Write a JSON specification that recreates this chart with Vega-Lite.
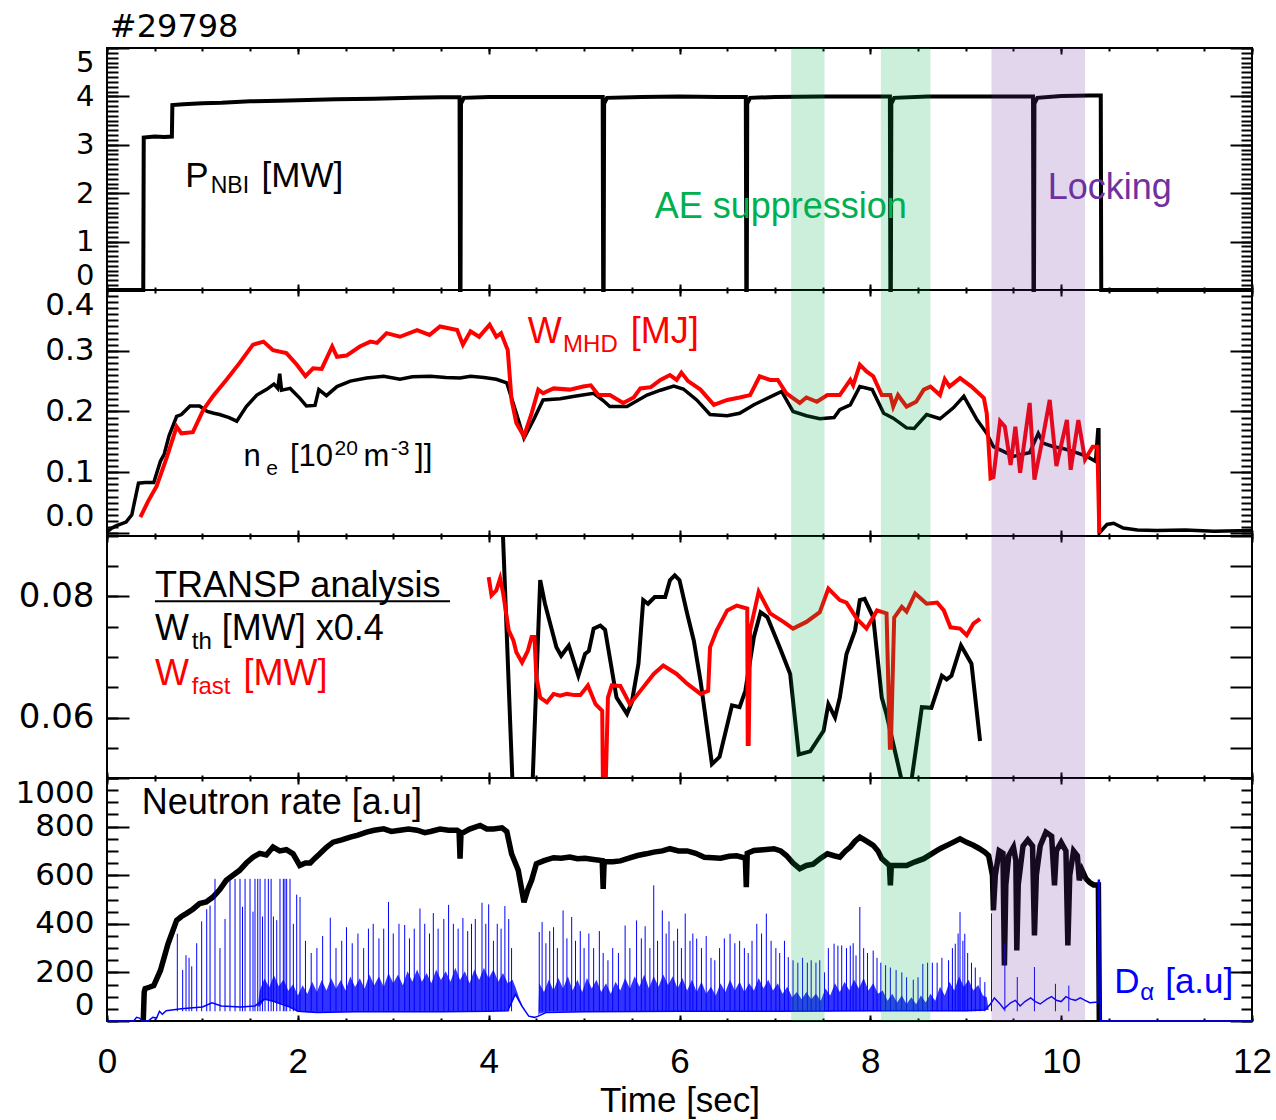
{
"$schema":"https://vega.github.io/schema/vega-lite/v6.json",
"background":"white",
"padding":{"left":14,"top":9,"right":4,"bottom":0},
"config":{"view":{"stroke":"black","strokeWidth":2},"axis":{"grid":false,"domain":false,"labels":false,"ticks":true,"tickColor":"black","tickWidth":2,"labelOverlap":false}},
"datasets":{
"green":[{"t1":7.17,"t2":7.52},{"t1":8.11,"t2":8.63}],
"purple":[{"t1":9.27,"t2":10.25}],
"pnbi":[{"t":0,"v":0},{"t":0.38,"v":0},{"t":0.385,"v":3.15},{"t":0.5,"v":3.17},{"t":0.6,"v":3.16},{"t":0.68,"v":3.17},{"t":0.685,"v":3.82},{"t":0.8,"v":3.84},{"t":1.0,"v":3.86},{"t":1.2,"v":3.87},{"t":1.5,"v":3.9},{"t":1.8,"v":3.91},{"t":2.0,"v":3.92},{"t":2.4,"v":3.94},{"t":2.8,"v":3.95},{"t":3.2,"v":3.97},{"t":3.5,"v":3.98},{"t":3.695,"v":3.98},{"t":3.7,"v":0},{"t":3.705,"v":0},{"t":3.71,"v":3.85},{"t":3.74,"v":3.97},{"t":4.0,"v":3.99},{"t":4.5,"v":3.99},{"t":5.0,"v":3.99},{"t":5.195,"v":3.99},{"t":5.2,"v":0},{"t":5.205,"v":0},{"t":5.21,"v":3.85},{"t":5.24,"v":3.97},{"t":5.6,"v":3.99},{"t":6.0,"v":4.0},{"t":6.4,"v":3.99},{"t":6.695,"v":3.99},{"t":6.7,"v":0},{"t":6.705,"v":0},{"t":6.71,"v":3.85},{"t":6.74,"v":3.97},{"t":7.0,"v":3.99},{"t":7.5,"v":4.0},{"t":8.0,"v":4.0},{"t":8.205,"v":4.0},{"t":8.21,"v":0},{"t":8.215,"v":0},{"t":8.22,"v":3.85},{"t":8.25,"v":3.97},{"t":8.6,"v":4.0},{"t":9.0,"v":4.0},{"t":9.4,"v":4.0},{"t":9.705,"v":4.0},{"t":9.71,"v":0},{"t":9.715,"v":0},{"t":9.72,"v":3.85},{"t":9.75,"v":3.97},{"t":10.0,"v":4.01},{"t":10.3,"v":4.02},{"t":10.415,"v":4.02},{"t":10.42,"v":0},{"t":12,"v":0}],
"ne":[{"t":0,"v":0.002},{"t":0.05,"v":0.008},{"t":0.1,"v":0.012},{"t":0.2,"v":0.018},{"t":0.26,"v":0.03},{"t":0.3,"v":0.06},{"t":0.33,"v":0.082},{"t":0.4,"v":0.083},{"t":0.49,"v":0.083},{"t":0.56,"v":0.118},{"t":0.6,"v":0.13},{"t":0.65,"v":0.16},{"t":0.73,"v":0.192},{"t":0.78,"v":0.195},{"t":0.87,"v":0.209},{"t":0.97,"v":0.209},{"t":1.05,"v":0.2},{"t":1.12,"v":0.197},{"t":1.18,"v":0.195},{"t":1.28,"v":0.19},{"t":1.36,"v":0.184},{"t":1.46,"v":0.208},{"t":1.57,"v":0.227},{"t":1.67,"v":0.236},{"t":1.75,"v":0.245},{"t":1.79,"v":0.238},{"t":1.81,"v":0.262},{"t":1.83,"v":0.235},{"t":1.92,"v":0.238},{"t":2.02,"v":0.222},{"t":2.09,"v":0.209},{"t":2.18,"v":0.21},{"t":2.22,"v":0.236},{"t":2.3,"v":0.226},{"t":2.41,"v":0.241},{"t":2.55,"v":0.25},{"t":2.72,"v":0.255},{"t":2.9,"v":0.258},{"t":3.07,"v":0.253},{"t":3.2,"v":0.257},{"t":3.39,"v":0.258},{"t":3.55,"v":0.256},{"t":3.7,"v":0.255},{"t":3.81,"v":0.258},{"t":3.95,"v":0.256},{"t":4.08,"v":0.253},{"t":4.19,"v":0.247},{"t":4.29,"v":0.197},{"t":4.37,"v":0.156},{"t":4.47,"v":0.186},{"t":4.57,"v":0.219},{"t":4.75,"v":0.221},{"t":4.9,"v":0.225},{"t":5.1,"v":0.23},{"t":5.2,"v":0.218},{"t":5.27,"v":0.208},{"t":5.45,"v":0.208},{"t":5.66,"v":0.227},{"t":5.8,"v":0.235},{"t":5.94,"v":0.242},{"t":6.04,"v":0.237},{"t":6.18,"v":0.219},{"t":6.32,"v":0.195},{"t":6.5,"v":0.193},{"t":6.63,"v":0.197},{"t":6.78,"v":0.211},{"t":6.99,"v":0.227},{"t":7.07,"v":0.233},{"t":7.19,"v":0.2},{"t":7.33,"v":0.193},{"t":7.47,"v":0.188},{"t":7.62,"v":0.19},{"t":7.68,"v":0.203},{"t":7.79,"v":0.211},{"t":7.89,"v":0.241},{"t":8.02,"v":0.236},{"t":8.14,"v":0.197},{"t":8.24,"v":0.189},{"t":8.38,"v":0.173},{"t":8.46,"v":0.172},{"t":8.59,"v":0.195},{"t":8.73,"v":0.188},{"t":8.87,"v":0.206},{"t":8.98,"v":0.225},{"t":9.12,"v":0.186},{"t":9.22,"v":0.164},{"t":9.29,"v":0.142},{"t":9.4,"v":0.134},{"t":9.5,"v":0.126},{"t":9.6,"v":0.13},{"t":9.67,"v":0.132},{"t":9.76,"v":0.164},{"t":9.81,"v":0.148},{"t":9.92,"v":0.142},{"t":10.02,"v":0.139},{"t":10.13,"v":0.134},{"t":10.27,"v":0.126},{"t":10.36,"v":0.118},{"t":10.385,"v":0.17},{"t":10.395,"v":0.17},{"t":10.4,"v":0.0},{"t":10.48,"v":0.014},{"t":10.55,"v":0.016},{"t":10.65,"v":0.008},{"t":10.8,"v":0.005},{"t":11.0,"v":0.004},{"t":11.3,"v":0.005},{"t":11.6,"v":0.003},{"t":12,"v":0.004}],
"wmhd":[{"t":0.35,"v":0.026},{"t":0.43,"v":0.052},{"t":0.52,"v":0.077},{"t":0.63,"v":0.126},{"t":0.73,"v":0.175},{"t":0.78,"v":0.164},{"t":0.9,"v":0.166},{"t":1.01,"v":0.203},{"t":1.11,"v":0.225},{"t":1.25,"v":0.252},{"t":1.39,"v":0.28},{"t":1.53,"v":0.31},{"t":1.64,"v":0.315},{"t":1.74,"v":0.301},{"t":1.88,"v":0.296},{"t":1.99,"v":0.277},{"t":2.08,"v":0.258},{"t":2.16,"v":0.271},{"t":2.25,"v":0.27},{"t":2.36,"v":0.307},{"t":2.41,"v":0.29},{"t":2.51,"v":0.292},{"t":2.65,"v":0.307},{"t":2.76,"v":0.315},{"t":2.83,"v":0.313},{"t":2.93,"v":0.329},{"t":3.07,"v":0.323},{"t":3.25,"v":0.334},{"t":3.38,"v":0.326},{"t":3.49,"v":0.34},{"t":3.67,"v":0.334},{"t":3.73,"v":0.31},{"t":3.81,"v":0.332},{"t":3.9,"v":0.323},{"t":4.01,"v":0.343},{"t":4.08,"v":0.323},{"t":4.13,"v":0.329},{"t":4.2,"v":0.301},{"t":4.24,"v":0.219},{"t":4.29,"v":0.181},{"t":4.37,"v":0.159},{"t":4.45,"v":0.197},{"t":4.52,"v":0.236},{"t":4.57,"v":0.23},{"t":4.68,"v":0.238},{"t":4.85,"v":0.236},{"t":4.99,"v":0.241},{"t":5.07,"v":0.243},{"t":5.15,"v":0.227},{"t":5.27,"v":0.227},{"t":5.41,"v":0.214},{"t":5.52,"v":0.223},{"t":5.59,"v":0.238},{"t":5.7,"v":0.24},{"t":5.8,"v":0.252},{"t":5.9,"v":0.26},{"t":5.97,"v":0.252},{"t":6.02,"v":0.264},{"t":6.09,"v":0.25},{"t":6.22,"v":0.236},{"t":6.36,"v":0.211},{"t":6.5,"v":0.219},{"t":6.63,"v":0.223},{"t":6.74,"v":0.227},{"t":6.84,"v":0.258},{"t":6.95,"v":0.252},{"t":7.03,"v":0.252},{"t":7.12,"v":0.23},{"t":7.26,"v":0.214},{"t":7.33,"v":0.223},{"t":7.44,"v":0.216},{"t":7.55,"v":0.227},{"t":7.68,"v":0.227},{"t":7.79,"v":0.252},{"t":7.82,"v":0.243},{"t":7.89,"v":0.277},{"t":7.96,"v":0.266},{"t":8.03,"v":0.258},{"t":8.12,"v":0.227},{"t":8.21,"v":0.227},{"t":8.24,"v":0.208},{"t":8.29,"v":0.227},{"t":8.38,"v":0.208},{"t":8.48,"v":0.216},{"t":8.56,"v":0.236},{"t":8.63,"v":0.241},{"t":8.73,"v":0.227},{"t":8.78,"v":0.253},{"t":8.83,"v":0.241},{"t":8.94,"v":0.255},{"t":9.06,"v":0.241},{"t":9.19,"v":0.222},{"t":9.22,"v":0.197},{"t":9.26,"v":0.09},{"t":9.29,"v":0.092},{"t":9.36,"v":0.184},{"t":9.41,"v":0.175},{"t":9.47,"v":0.112},{"t":9.52,"v":0.175},{"t":9.57,"v":0.099},{"t":9.67,"v":0.214},{"t":9.72,"v":0.088},{"t":9.81,"v":0.159},{"t":9.88,"v":0.219},{"t":9.95,"v":0.11},{"t":10.06,"v":0.186},{"t":10.1,"v":0.104},{"t":10.18,"v":0.186},{"t":10.25,"v":0.121},{"t":10.33,"v":0.142},{"t":10.38,"v":0.142},{"t":10.4,"v":0.0}],
"wth":[{"t":4.13,"v":0.1},{"t":4.15,"v":0.09},{"t":4.26,"v":0.045},{"t":4.45,"v":0.045},{"t":4.54,"v":0.0827},{"t":4.59,"v":0.0788},{"t":4.71,"v":0.0716},{"t":4.76,"v":0.0702},{"t":4.84,"v":0.0719},{"t":4.94,"v":0.0669},{"t":5.01,"v":0.0705},{"t":5.05,"v":0.071},{"t":5.1,"v":0.0747},{"t":5.17,"v":0.0752},{"t":5.22,"v":0.0745},{"t":5.34,"v":0.0633},{"t":5.45,"v":0.0606},{"t":5.5,"v":0.0625},{"t":5.57,"v":0.0689},{"t":5.62,"v":0.0794},{"t":5.67,"v":0.0788},{"t":5.74,"v":0.0799},{"t":5.85,"v":0.0799},{"t":5.9,"v":0.0827},{"t":5.95,"v":0.0835},{"t":6.0,"v":0.0827},{"t":6.08,"v":0.0772},{"t":6.15,"v":0.0727},{"t":6.22,"v":0.0661},{"t":6.34,"v":0.0523},{"t":6.42,"v":0.0535},{"t":6.55,"v":0.062},{"t":6.63,"v":0.0617},{"t":6.69,"v":0.0644},{"t":6.78,"v":0.0733},{"t":6.85,"v":0.0774},{"t":6.92,"v":0.0766},{"t":7.05,"v":0.0716},{"t":7.16,"v":0.0672},{"t":7.25,"v":0.0539},{"t":7.37,"v":0.0544},{"t":7.51,"v":0.0578},{"t":7.56,"v":0.0622},{"t":7.63,"v":0.06},{"t":7.68,"v":0.0633},{"t":7.75,"v":0.0705},{"t":7.84,"v":0.0744},{"t":7.89,"v":0.0794},{"t":7.94,"v":0.0796},{"t":8.03,"v":0.0766},{"t":8.12,"v":0.0633},{"t":8.17,"v":0.0605},{"t":8.33,"v":0.0495},{"t":8.43,"v":0.0495},{"t":8.54,"v":0.0617},{"t":8.64,"v":0.0616},{"t":8.75,"v":0.0669},{"t":8.8,"v":0.0663},{"t":8.85,"v":0.0669},{"t":8.95,"v":0.0719},{"t":9.06,"v":0.0689},{"t":9.15,"v":0.0561}],
"wfast":[{"t":4.0,"v":0.0832},{"t":4.03,"v":0.0802},{"t":4.08,"v":0.081},{"t":4.12,"v":0.083},{"t":4.15,"v":0.0807},{"t":4.21,"v":0.0744},{"t":4.26,"v":0.0727},{"t":4.29,"v":0.0708},{"t":4.35,"v":0.0691},{"t":4.41,"v":0.071},{"t":4.45,"v":0.0733},{"t":4.48,"v":0.0733},{"t":4.5,"v":0.0667},{"t":4.54,"v":0.0633},{"t":4.61,"v":0.0625},{"t":4.68,"v":0.0639},{"t":4.75,"v":0.0636},{"t":4.82,"v":0.0639},{"t":4.9,"v":0.0637},{"t":4.96,"v":0.0637},{"t":5.04,"v":0.0653},{"t":5.12,"v":0.0622},{"t":5.19,"v":0.0611},{"t":5.2,"v":0.045},{"t":5.22,"v":0.045},{"t":5.25,"v":0.0633},{"t":5.29,"v":0.0653},{"t":5.38,"v":0.0652},{"t":5.48,"v":0.0622},{"t":5.59,"v":0.0644},{"t":5.73,"v":0.0672},{"t":5.83,"v":0.0686},{"t":5.97,"v":0.0672},{"t":6.08,"v":0.0656},{"t":6.22,"v":0.0639},{"t":6.3,"v":0.0644},{"t":6.32,"v":0.0716},{"t":6.39,"v":0.0744},{"t":6.5,"v":0.0777},{"t":6.6,"v":0.0785},{"t":6.71,"v":0.078},{"t":6.715,"v":0.0556},{"t":6.725,"v":0.0556},{"t":6.74,"v":0.0744},{"t":6.83,"v":0.0808},{"t":6.95,"v":0.0772},{"t":7.09,"v":0.0758},{"t":7.19,"v":0.0747},{"t":7.33,"v":0.0758},{"t":7.47,"v":0.0774},{"t":7.56,"v":0.0813},{"t":7.68,"v":0.0794},{"t":7.75,"v":0.079},{"t":7.86,"v":0.0763},{"t":7.96,"v":0.0747},{"t":8.07,"v":0.0777},{"t":8.17,"v":0.0772},{"t":8.205,"v":0.055},{"t":8.215,"v":0.055},{"t":8.25,"v":0.0765},{"t":8.33,"v":0.0783},{"t":8.38,"v":0.0775},{"t":8.47,"v":0.0805},{"t":8.59,"v":0.0788},{"t":8.7,"v":0.079},{"t":8.77,"v":0.0777},{"t":8.84,"v":0.0749},{"t":8.94,"v":0.0747},{"t":9.01,"v":0.0736},{"t":9.08,"v":0.0755},{"t":9.15,"v":0.0763}],
"neut":[{"t":0.38,"v":0},{"t":0.39,"v":120},{"t":0.4,"v":133},{"t":0.45,"v":140},{"t":0.49,"v":146},{"t":0.56,"v":208},{"t":0.64,"v":318},{"t":0.73,"v":414},{"t":0.78,"v":430},{"t":0.83,"v":442},{"t":0.9,"v":460},{"t":0.97,"v":483},{"t":1.04,"v":490},{"t":1.11,"v":510},{"t":1.18,"v":540},{"t":1.25,"v":579},{"t":1.32,"v":600},{"t":1.39,"v":620},{"t":1.46,"v":650},{"t":1.53,"v":674},{"t":1.6,"v":690},{"t":1.67,"v":683},{"t":1.74,"v":716},{"t":1.81,"v":700},{"t":1.88,"v":705},{"t":1.95,"v":688},{"t":2.02,"v":640},{"t":2.08,"v":650},{"t":2.13,"v":650},{"t":2.18,"v":670},{"t":2.23,"v":688},{"t":2.3,"v":715},{"t":2.37,"v":736},{"t":2.46,"v":745},{"t":2.55,"v":757},{"t":2.63,"v":765},{"t":2.72,"v":777},{"t":2.8,"v":785},{"t":2.9,"v":791},{"t":2.98,"v":780},{"t":3.07,"v":785},{"t":3.16,"v":790},{"t":3.25,"v":785},{"t":3.33,"v":775},{"t":3.39,"v":780},{"t":3.49,"v":790},{"t":3.58,"v":785},{"t":3.67,"v":785},{"t":3.69,"v":780},{"t":3.7,"v":668},{"t":3.71,"v":770},{"t":3.8,"v":790},{"t":3.91,"v":805},{"t":3.98,"v":790},{"t":4.05,"v":790},{"t":4.14,"v":795},{"t":4.19,"v":780},{"t":4.24,"v":688},{"t":4.31,"v":620},{"t":4.37,"v":489},{"t":4.41,"v":540},{"t":4.45,"v":579},{"t":4.5,"v":647},{"t":4.58,"v":660},{"t":4.68,"v":672},{"t":4.76,"v":670},{"t":4.85,"v":675},{"t":4.93,"v":668},{"t":5.01,"v":670},{"t":5.1,"v":665},{"t":5.19,"v":660},{"t":5.2,"v":544},{"t":5.21,"v":655},{"t":5.3,"v":655},{"t":5.38,"v":659},{"t":5.47,"v":670},{"t":5.56,"v":681},{"t":5.65,"v":688},{"t":5.73,"v":695},{"t":5.82,"v":700},{"t":5.9,"v":709},{"t":5.99,"v":700},{"t":6.08,"v":700},{"t":6.17,"v":690},{"t":6.26,"v":674},{"t":6.35,"v":672},{"t":6.43,"v":670},{"t":6.52,"v":678},{"t":6.6,"v":680},{"t":6.69,"v":670},{"t":6.7,"v":551},{"t":6.71,"v":690},{"t":6.78,"v":702},{"t":6.88,"v":705},{"t":6.99,"v":709},{"t":7.06,"v":700},{"t":7.12,"v":681},{"t":7.19,"v":650},{"t":7.26,"v":627},{"t":7.33,"v":640},{"t":7.4,"v":645},{"t":7.48,"v":670},{"t":7.55,"v":688},{"t":7.62,"v":680},{"t":7.68,"v":674},{"t":7.74,"v":700},{"t":7.79,"v":716},{"t":7.84,"v":740},{"t":7.89,"v":757},{"t":7.96,"v":740},{"t":8.03,"v":723},{"t":8.08,"v":700},{"t":8.12,"v":668},{"t":8.2,"v":640},{"t":8.21,"v":558},{"t":8.22,"v":640},{"t":8.3,"v":640},{"t":8.38,"v":640},{"t":8.47,"v":655},{"t":8.56,"v":668},{"t":8.65,"v":690},{"t":8.73,"v":709},{"t":8.84,"v":730},{"t":8.94,"v":750},{"t":9.01,"v":735},{"t":9.08,"v":723},{"t":9.14,"v":710},{"t":9.2,"v":695},{"t":9.24,"v":680},{"t":9.28,"v":600},{"t":9.29,"v":455},{"t":9.31,"v":600},{"t":9.35,"v":700},{"t":9.39,"v":690},{"t":9.405,"v":229},{"t":9.42,"v":560},{"t":9.45,"v":680},{"t":9.5,"v":715},{"t":9.525,"v":660},{"t":9.535,"v":290},{"t":9.55,"v":560},{"t":9.6,"v":720},{"t":9.65,"v":745},{"t":9.7,"v":720},{"t":9.72,"v":352},{"t":9.74,"v":600},{"t":9.78,"v":720},{"t":9.84,"v":777},{"t":9.9,"v":760},{"t":9.93,"v":558},{"t":9.95,"v":700},{"t":10.0,"v":735},{"t":10.05,"v":700},{"t":10.07,"v":311},{"t":10.09,"v":600},{"t":10.13,"v":700},{"t":10.17,"v":680},{"t":10.19,"v":579},{"t":10.22,"v":620},{"t":10.26,"v":586},{"t":10.3,"v":570},{"t":10.34,"v":560},{"t":10.39,"v":560},{"t":10.4,"v":0}],
"dabase":[{"t":0,"v":0},{"t":0.28,"v":0},{"t":0.31,"v":15},{"t":0.34,"v":12},{"t":0.37,"v":0},{"t":0.43,"v":0},{"t":0.48,"v":15},{"t":0.52,"v":12},{"t":0.55,"v":40},{"t":0.58,"v":28},{"t":0.62,"v":42},{"t":0.7,"v":46},{"t":0.78,"v":50},{"t":0.9,"v":55},{"t":1.0,"v":58},{"t":1.1,"v":75},{"t":1.2,"v":62},{"t":1.4,"v":58},{"t":1.55,"v":62},{"t":1.65,"v":90},{"t":1.75,"v":80},{"t":1.9,"v":60},{"t":2.0,"v":40},{"t":2.2,"v":35},{"t":2.6,"v":38},{"t":3.0,"v":38},{"t":3.5,"v":38},{"t":4.0,"v":40},{"t":4.2,"v":42},{"t":4.28,"v":110},{"t":4.35,"v":60},{"t":4.42,"v":20},{"t":4.48,"v":15},{"t":4.52,"v":20},{"t":4.6,"v":35},{"t":5.0,"v":38},{"t":6.0,"v":40},{"t":7.0,"v":40},{"t":8.0,"v":42},{"t":9.0,"v":42},{"t":9.2,"v":45},{"t":9.26,"v":70},{"t":9.3,"v":95},{"t":9.36,"v":70},{"t":9.4,"v":50},{"t":9.47,"v":75},{"t":9.52,"v":85},{"t":9.57,"v":62},{"t":9.62,"v":80},{"t":9.68,"v":95},{"t":9.73,"v":80},{"t":9.78,"v":70},{"t":9.85,"v":90},{"t":9.9,"v":100},{"t":9.95,"v":85},{"t":10.0,"v":80},{"t":10.05,"v":100},{"t":10.1,"v":90},{"t":10.15,"v":85},{"t":10.2,"v":95},{"t":10.25,"v":85},{"t":10.3,"v":75},{"t":10.385,"v":78},{"t":10.39,"v":579},{"t":10.4,"v":579},{"t":10.41,"v":0},{"t":12,"v":0}],
"daenv":[{"t":1.58,"lo":60,"hi":60},{"t":1.6,"lo":60,"hi":125},{"t":1.65,"lo":85,"hi":175},{"t":1.7,"lo":85,"hi":139},{"t":1.75,"lo":80,"hi":188},{"t":1.8,"lo":75,"hi":143},{"t":1.85,"lo":70,"hi":171},{"t":1.9,"lo":60,"hi":125},{"t":1.95,"lo":50,"hi":151},{"t":2.0,"lo":40,"hi":105},{"t":2.05,"lo":38,"hi":147},{"t":2.1,"lo":36,"hi":111},{"t":2.15,"lo":36,"hi":162},{"t":2.2,"lo":35,"hi":119},{"t":2.25,"lo":36,"hi":169},{"t":2.3,"lo":36,"hi":126},{"t":2.35,"lo":37,"hi":176},{"t":2.4,"lo":37,"hi":133},{"t":2.45,"lo":37,"hi":169},{"t":2.5,"lo":38,"hi":126},{"t":2.55,"lo":38,"hi":183},{"t":2.6,"lo":38,"hi":140},{"t":2.65,"lo":38,"hi":176},{"t":2.7,"lo":38,"hi":133},{"t":2.75,"lo":38,"hi":191},{"t":2.8,"lo":38,"hi":147},{"t":2.85,"lo":38,"hi":183},{"t":2.9,"lo":38,"hi":140},{"t":2.95,"lo":38,"hi":198},{"t":3.0,"lo":38,"hi":155},{"t":3.05,"lo":38,"hi":191},{"t":3.1,"lo":38,"hi":147},{"t":3.15,"lo":38,"hi":205},{"t":3.2,"lo":38,"hi":162},{"t":3.25,"lo":38,"hi":212},{"t":3.3,"lo":38,"hi":162},{"t":3.35,"lo":38,"hi":198},{"t":3.4,"lo":38,"hi":155},{"t":3.45,"lo":38,"hi":212},{"t":3.5,"lo":38,"hi":169},{"t":3.55,"lo":39,"hi":205},{"t":3.6,"lo":39,"hi":162},{"t":3.65,"lo":39,"hi":219},{"t":3.7,"lo":39,"hi":169},{"t":3.75,"lo":39,"hi":205},{"t":3.8,"lo":40,"hi":155},{"t":3.85,"lo":40,"hi":212},{"t":3.9,"lo":40,"hi":169},{"t":3.95,"lo":40,"hi":219},{"t":4.0,"lo":40,"hi":176},{"t":4.05,"lo":41,"hi":212},{"t":4.1,"lo":41,"hi":162},{"t":4.15,"lo":41,"hi":198},{"t":4.2,"lo":42,"hi":155},{"t":4.25,"lo":80,"hi":170},{"t":4.28,"lo":110,"hi":140},{"t":4.32,"lo":80,"hi":95},{"t":4.36,"lo":55,"hi":58},{"t":4.38,"lo":50,"hi":50},{"t":4.52,"lo":20,"hi":20},{"t":4.53,"lo":30,"hi":155},{"t":4.58,"lo":35,"hi":119},{"t":4.63,"lo":38,"hi":170},{"t":4.68,"lo":38,"hi":126},{"t":4.73,"lo":38,"hi":177},{"t":4.78,"lo":38,"hi":134},{"t":4.83,"lo":38,"hi":184},{"t":4.88,"lo":38,"hi":126},{"t":4.93,"lo":38,"hi":170},{"t":4.98,"lo":38,"hi":119},{"t":5.03,"lo":38,"hi":177},{"t":5.08,"lo":38,"hi":134},{"t":5.13,"lo":38,"hi":170},{"t":5.18,"lo":38,"hi":119},{"t":5.23,"lo":38,"hi":155},{"t":5.28,"lo":38,"hi":112},{"t":5.33,"lo":38,"hi":162},{"t":5.38,"lo":38,"hi":126},{"t":5.43,"lo":39,"hi":177},{"t":5.48,"lo":39,"hi":134},{"t":5.53,"lo":39,"hi":184},{"t":5.58,"lo":39,"hi":141},{"t":5.63,"lo":39,"hi":191},{"t":5.68,"lo":39,"hi":134},{"t":5.73,"lo":39,"hi":184},{"t":5.78,"lo":39,"hi":141},{"t":5.83,"lo":40,"hi":191},{"t":5.88,"lo":40,"hi":148},{"t":5.93,"lo":40,"hi":184},{"t":5.98,"lo":40,"hi":134},{"t":6.03,"lo":40,"hi":177},{"t":6.08,"lo":40,"hi":126},{"t":6.13,"lo":40,"hi":170},{"t":6.18,"lo":40,"hi":119},{"t":6.23,"lo":40,"hi":162},{"t":6.28,"lo":40,"hi":112},{"t":6.33,"lo":40,"hi":141},{"t":6.38,"lo":40,"hi":105},{"t":6.43,"lo":40,"hi":155},{"t":6.48,"lo":40,"hi":119},{"t":6.53,"lo":40,"hi":170},{"t":6.58,"lo":40,"hi":126},{"t":6.63,"lo":40,"hi":162},{"t":6.68,"lo":40,"hi":119},{"t":6.73,"lo":40,"hi":155},{"t":6.78,"lo":40,"hi":126},{"t":6.83,"lo":40,"hi":177},{"t":6.88,"lo":40,"hi":134},{"t":6.93,"lo":40,"hi":170},{"t":6.98,"lo":40,"hi":126},{"t":7.03,"lo":40,"hi":155},{"t":7.08,"lo":40,"hi":112},{"t":7.13,"lo":40,"hi":141},{"t":7.18,"lo":40,"hi":98},{"t":7.23,"lo":40,"hi":119},{"t":7.28,"lo":40,"hi":90},{"t":7.33,"lo":40,"hi":119},{"t":7.38,"lo":40,"hi":90},{"t":7.43,"lo":40,"hi":112},{"t":7.48,"lo":40,"hi":83},{"t":7.53,"lo":40,"hi":134},{"t":7.58,"lo":40,"hi":105},{"t":7.63,"lo":41,"hi":155},{"t":7.68,"lo":41,"hi":119},{"t":7.73,"lo":41,"hi":162},{"t":7.78,"lo":41,"hi":126},{"t":7.83,"lo":41,"hi":170},{"t":7.88,"lo":41,"hi":134},{"t":7.93,"lo":41,"hi":177},{"t":7.98,"lo":42,"hi":126},{"t":8.03,"lo":42,"hi":155},{"t":8.08,"lo":42,"hi":112},{"t":8.13,"lo":42,"hi":126},{"t":8.18,"lo":42,"hi":83},{"t":8.23,"lo":42,"hi":112},{"t":8.28,"lo":42,"hi":76},{"t":8.33,"lo":42,"hi":105},{"t":8.38,"lo":42,"hi":69},{"t":8.43,"lo":42,"hi":98},{"t":8.48,"lo":42,"hi":69},{"t":8.53,"lo":42,"hi":105},{"t":8.58,"lo":42,"hi":76},{"t":8.63,"lo":42,"hi":112},{"t":8.68,"lo":42,"hi":83},{"t":8.73,"lo":42,"hi":141},{"t":8.78,"lo":42,"hi":105},{"t":8.83,"lo":42,"hi":162},{"t":8.88,"lo":42,"hi":126},{"t":8.93,"lo":42,"hi":184},{"t":8.98,"lo":42,"hi":141},{"t":9.03,"lo":43,"hi":170},{"t":9.08,"lo":43,"hi":126},{"t":9.13,"lo":44,"hi":148},{"t":9.18,"lo":44,"hi":105},{"t":9.22,"lo":45,"hi":98},{"t":9.24,"lo":45,"hi":45}],
"daspk":[{"t":0.737,"v":359},{"t":0.793,"v":210},{"t":0.828,"v":271},{"t":0.86,"v":260},{"t":0.888,"v":225},{"t":0.94,"v":320},{"t":0.992,"v":410},{"t":1.045,"v":460},{"t":1.08,"v":475},{"t":1.132,"v":585},{"t":1.184,"v":300},{"t":1.237,"v":420},{"t":1.289,"v":585},{"t":1.342,"v":585},{"t":1.394,"v":585},{"t":1.42,"v":470},{"t":1.447,"v":585},{"t":1.499,"v":585},{"t":1.53,"v":450},{"t":1.551,"v":585},{"t":1.58,"v":585},{"t":1.604,"v":585},{"t":1.63,"v":430},{"t":1.656,"v":585},{"t":1.691,"v":585},{"t":1.72,"v":585},{"t":1.744,"v":430},{"t":1.779,"v":415},{"t":1.813,"v":585},{"t":1.848,"v":585},{"t":1.865,"v":585},{"t":1.883,"v":585},{"t":1.918,"v":585},{"t":1.953,"v":400},{"t":1.988,"v":520},{"t":2.023,"v":510},{"t":2.08,"v":330},{"t":2.14,"v":280},{"t":2.2,"v":300},{"t":2.26,"v":350},{"t":2.34,"v":425},{"t":2.4,"v":300},{"t":2.46,"v":330},{"t":2.51,"v":386},{"t":2.57,"v":320},{"t":2.63,"v":360},{"t":2.69,"v":300},{"t":2.74,"v":380},{"t":2.79,"v":400},{"t":2.85,"v":340},{"t":2.9,"v":380},{"t":2.95,"v":490},{"t":3.0,"v":360},{"t":3.06,"v":400},{"t":3.12,"v":395},{"t":3.17,"v":340},{"t":3.22,"v":380},{"t":3.28,"v":463},{"t":3.33,"v":400},{"t":3.38,"v":360},{"t":3.42,"v":444},{"t":3.47,"v":380},{"t":3.53,"v":420},{"t":3.58,"v":478},{"t":3.63,"v":400},{"t":3.68,"v":380},{"t":3.73,"v":424},{"t":3.78,"v":370},{"t":3.82,"v":400},{"t":3.86,"v":420},{"t":3.93,"v":487},{"t":3.97,"v":400},{"t":4.0,"v":480},{"t":4.05,"v":330},{"t":4.09,"v":400},{"t":4.13,"v":380},{"t":4.17,"v":473},{"t":4.21,"v":420},{"t":4.24,"v":300},{"t":4.53,"v":366},{"t":4.56,"v":407},{"t":4.6,"v":320},{"t":4.64,"v":370},{"t":4.68,"v":386},{"t":4.72,"v":300},{"t":4.78,"v":455},{"t":4.82,"v":340},{"t":4.87,"v":428},{"t":4.91,"v":330},{"t":4.96,"v":370},{"t":5.0,"v":300},{"t":5.05,"v":360},{"t":5.1,"v":300},{"t":5.16,"v":370},{"t":5.2,"v":280},{"t":5.25,"v":250},{"t":5.3,"v":300},{"t":5.36,"v":280},{"t":5.43,"v":393},{"t":5.48,"v":300},{"t":5.55,"v":414},{"t":5.6,"v":340},{"t":5.64,"v":390},{"t":5.69,"v":300},{"t":5.73,"v":558},{"t":5.77,"v":330},{"t":5.82,"v":455},{"t":5.86,"v":360},{"t":5.89,"v":410},{"t":5.94,"v":330},{"t":5.98,"v":380},{"t":6.02,"v":300},{"t":6.06,"v":442},{"t":6.11,"v":330},{"t":6.14,"v":360},{"t":6.18,"v":339},{"t":6.23,"v":300},{"t":6.28,"v":350},{"t":6.33,"v":260},{"t":6.37,"v":250},{"t":6.42,"v":300},{"t":6.47,"v":340},{"t":6.53,"v":359},{"t":6.58,"v":320},{"t":6.63,"v":330},{"t":6.68,"v":300},{"t":6.72,"v":280},{"t":6.76,"v":330},{"t":6.81,"v":400},{"t":6.86,"v":360},{"t":6.91,"v":442},{"t":6.96,"v":330},{"t":7.01,"v":300},{"t":7.05,"v":280},{"t":7.1,"v":330},{"t":7.14,"v":263},{"t":7.19,"v":250},{"t":7.24,"v":240},{"t":7.29,"v":260},{"t":7.34,"v":240},{"t":7.38,"v":250},{"t":7.43,"v":240},{"t":7.47,"v":250},{"t":7.52,"v":200},{"t":7.56,"v":300},{"t":7.62,"v":318},{"t":7.66,"v":310},{"t":7.7,"v":311},{"t":7.75,"v":300},{"t":7.79,"v":310},{"t":7.82,"v":320},{"t":7.85,"v":270},{"t":7.89,"v":469},{"t":7.93,"v":300},{"t":7.97,"v":280},{"t":8.03,"v":290},{"t":8.07,"v":260},{"t":8.11,"v":240},{"t":8.16,"v":230},{"t":8.21,"v":220},{"t":8.27,"v":210},{"t":8.33,"v":200},{"t":8.38,"v":180},{"t":8.45,"v":170},{"t":8.5,"v":180},{"t":8.55,"v":235},{"t":8.6,"v":240},{"t":8.65,"v":240},{"t":8.7,"v":240},{"t":8.75,"v":260},{"t":8.82,"v":250},{"t":8.86,"v":300},{"t":8.89,"v":318},{"t":8.92,"v":360},{"t":8.94,"v":448},{"t":8.97,"v":330},{"t":8.99,"v":359},{"t":9.02,"v":280},{"t":9.06,"v":240},{"t":9.1,"v":220},{"t":9.15,"v":180},{"t":9.2,"v":160},{"t":9.27,"v":443},{"t":9.41,"v":318},{"t":9.54,"v":181},{"t":9.72,"v":222},{"t":9.94,"v":153},{"t":10.08,"v":146}]
},
"vconcat":[
{"width":1145,"height":242,
 "resolve":{"axis":{"x":"independent","y":"independent"}},
 "layer":[
  {"data":{"name":"pnbi"},"mark":{"type":"line","color":"black","strokeWidth":4},
   "encoding":{"x":{"field":"t","type":"quantitative","scale":{"domain":[0,12],"nice":false,"zero":false},"axis":{"orient":"top","values":[0,2,4,6,8,10,12],"tickSize":-6,"title":null}},
   "y":{"field":"v","type":"quantitative","scale":{"domain":[0,5],"nice":false,"zero":false},"axis":{"orient":"left","values":[0,1,2,3,4,5],"format":"d","tickSize":-22,"labels":true,"labelPadding":35,"labelFont":"DejaVu Sans","labelFontSize":29,"labelColor":"black","labelFlush":true,"title":null}}}},
  {"data":{"values":[{"t":0.82,"v":2.13,"s":"P"},{"t":1.62,"v":2.13,"s":"[MW]"}]},"mark":{"type":"text","font":"Liberation Sans","fontSize":35,"align":"left","baseline":"alphabetic","color":"black"},
   "encoding":{"x":{"field":"t","type":"quantitative","scale":{"domain":[0,12],"nice":false,"zero":false},"axis":{"orient":"top","tickCount":24,"tickSize":-3,"title":null}},
   "y":{"field":"v","type":"quantitative","scale":{"domain":[0,5],"nice":false,"zero":false},"axis":{"orient":"left","tickCount":50,"tickSize":-11,"title":null}},"text":{"field":"s"}}},
  {"data":{"values":[{"t":1.087,"v":2.0,"s":"NBI"}]},"mark":{"type":"text","font":"Liberation Sans","fontSize":23,"align":"left","baseline":"alphabetic","color":"black"},
   "encoding":{"x":{"field":"t","type":"quantitative","scale":{"domain":[0,12],"nice":false,"zero":false},"axis":{"orient":"bottom","values":[0,2,4,6,8,10,12],"tickSize":-6,"title":null}},
   "y":{"field":"v","type":"quantitative","scale":{"domain":[0,5],"nice":false,"zero":false},"axis":{"orient":"right","values":[0,1,2,3,4,5],"tickSize":-22,"title":null}},"text":{"field":"s"}}},
  {"data":{"values":[{"t":5.74,"v":1.49,"s":"AE suppression"}]},"mark":{"type":"text","font":"Liberation Sans","fontSize":36,"align":"left","baseline":"alphabetic","color":"#00B050"},
   "encoding":{"x":{"field":"t","type":"quantitative","scale":{"domain":[0,12],"nice":false,"zero":false},"axis":{"orient":"bottom","tickCount":24,"tickSize":-3,"title":null}},
   "y":{"field":"v","type":"quantitative","scale":{"domain":[0,5],"nice":false,"zero":false},"axis":{"orient":"right","tickCount":50,"tickSize":-11,"title":null}},"text":{"field":"s"}}},
  {"data":{"values":[{"t":9.86,"v":1.89,"s":"Locking"}]},"mark":{"type":"text","font":"Liberation Sans","fontSize":36,"align":"left","baseline":"alphabetic","color":"#7030A0"},
   "encoding":{"x":{"field":"t","type":"quantitative","scale":{"domain":[0,12],"nice":false,"zero":false},"axis":null},
   "y":{"field":"v","type":"quantitative","scale":{"domain":[0,5],"nice":false,"zero":false},"axis":null},"text":{"field":"s"}}},
  {"data":{"values":[{"t":0.03,"v":5.23,"s":"#29798"}]},"mark":{"type":"text","font":"DejaVu Sans","fontSize":32,"align":"left","baseline":"alphabetic","color":"black"},
   "encoding":{"x":{"field":"t","type":"quantitative","scale":{"domain":[0,12],"nice":false,"zero":false},"axis":null},
   "y":{"field":"v","type":"quantitative","scale":{"domain":[0,5],"nice":false,"zero":false},"axis":null},"text":{"field":"s"}}},
  {"data":{"name":"green"},"mark":{"type":"rect","color":"#00B050","opacity":0.2},"encoding":{"x":{"field":"t1","type":"quantitative","scale":{"domain":[0,12],"nice":false,"zero":false},"axis":null},"x2":{"field":"t2"}}},
  {"data":{"name":"purple"},"mark":{"type":"rect","color":"#7030A0","opacity":0.2},"encoding":{"x":{"field":"t1","type":"quantitative","scale":{"domain":[0,12],"nice":false,"zero":false},"axis":null},"x2":{"field":"t2"}}}
 ]},
{"width":1145,"height":246,
 "resolve":{"axis":{"x":"independent","y":"independent"}},
 "layer":[
  {"data":{"name":"ne"},"mark":{"type":"line","color":"black","strokeWidth":3.5},
   "encoding":{"x":{"field":"t","type":"quantitative","scale":{"domain":[0,12],"nice":false,"zero":false},"axis":{"orient":"top","values":[0,2,4,6,8,10,12],"tickSize":-6,"title":null}},
   "y":{"field":"v","type":"quantitative","scale":{"domain":[-0.005,0.4],"nice":false,"zero":false},"axis":{"orient":"left","values":[0,0.1,0.2,0.3,0.4],"format":".1f","tickSize":-22,"labels":true,"labelPadding":35,"labelFont":"DejaVu Sans","labelFontSize":31,"labelColor":"black","labelFlush":5,"title":null}}}},
  {"data":{"name":"wmhd"},"mark":{"type":"line","color":"#FF0000","strokeWidth":4},
   "encoding":{"x":{"field":"t","type":"quantitative","scale":{"domain":[0,12],"nice":false,"zero":false},"axis":{"orient":"top","tickCount":24,"tickSize":-3,"title":null}},
   "y":{"field":"v","type":"quantitative","scale":{"domain":[-0.005,0.4],"nice":false,"zero":false},"axis":{"orient":"left","tickCount":40,"tickSize":-11,"title":null}}}},
  {"data":{"values":[{"t":4.41,"v":0.3125,"s":"W"},{"t":5.49,"v":0.3125,"s":"[MJ]"}]},"mark":{"type":"text","font":"Liberation Sans","fontSize":36,"align":"left","baseline":"alphabetic","color":"#FF0000"},
   "encoding":{"x":{"field":"t","type":"quantitative","scale":{"domain":[0,12],"nice":false,"zero":false},"axis":{"orient":"bottom","values":[0,2,4,6,8,10,12],"tickSize":-6,"title":null}},
   "y":{"field":"v","type":"quantitative","scale":{"domain":[-0.005,0.4],"nice":false,"zero":false},"axis":{"orient":"right","values":[0,0.1,0.2,0.3,0.4],"tickSize":-22,"title":null}},"text":{"field":"s"}}},
  {"data":{"values":[{"t":4.78,"v":0.2987,"s":"MHD"}]},"mark":{"type":"text","font":"Liberation Sans","fontSize":24,"align":"left","baseline":"alphabetic","color":"#FF0000"},
   "encoding":{"x":{"field":"t","type":"quantitative","scale":{"domain":[0,12],"nice":false,"zero":false},"axis":{"orient":"bottom","tickCount":24,"tickSize":-3,"title":null}},
   "y":{"field":"v","type":"quantitative","scale":{"domain":[-0.005,0.4],"nice":false,"zero":false},"axis":{"orient":"right","tickCount":40,"tickSize":-11,"title":null}},"text":{"field":"s"}}},
  {"data":{"values":[{"t":1.43,"v":0.1095,"s":"n"},{"t":1.918,"v":0.1095,"s":"[10"},{"t":2.687,"v":0.1095,"s":"m"},{"t":3.229,"v":0.1095,"s":"]]"}]},"mark":{"type":"text","font":"Liberation Sans","fontSize":31,"align":"left","baseline":"alphabetic","color":"black"},
   "encoding":{"x":{"field":"t","type":"quantitative","scale":{"domain":[0,12],"nice":false,"zero":false},"axis":null},
   "y":{"field":"v","type":"quantitative","scale":{"domain":[-0.005,0.4],"nice":false,"zero":false},"axis":null},"text":{"field":"s"}}},
  {"data":{"values":[{"t":1.67,"v":0.096,"s":"e"},{"t":2.385,"v":0.1288,"s":"20"},{"t":2.975,"v":0.1288,"s":"-3"}]},"mark":{"type":"text","font":"Liberation Sans","fontSize":21,"align":"left","baseline":"alphabetic","color":"black"},
   "encoding":{"x":{"field":"t","type":"quantitative","scale":{"domain":[0,12],"nice":false,"zero":false},"axis":null},
   "y":{"field":"v","type":"quantitative","scale":{"domain":[-0.005,0.4],"nice":false,"zero":false},"axis":null},"text":{"field":"s"}}},
  {"data":{"name":"green"},"mark":{"type":"rect","color":"#00B050","opacity":0.2},"encoding":{"x":{"field":"t1","type":"quantitative","scale":{"domain":[0,12],"nice":false,"zero":false},"axis":null},"x2":{"field":"t2"}}},
  {"data":{"name":"purple"},"mark":{"type":"rect","color":"#7030A0","opacity":0.2},"encoding":{"x":{"field":"t1","type":"quantitative","scale":{"domain":[0,12],"nice":false,"zero":false},"axis":null},"x2":{"field":"t2"}}}
 ]},
{"width":1145,"height":242,
 "resolve":{"axis":{"x":"independent","y":"independent"}},
 "layer":[
  {"data":{"name":"wth"},"mark":{"type":"line","color":"black","strokeWidth":4,"clip":true},
   "encoding":{"x":{"field":"t","type":"quantitative","scale":{"domain":[0,12],"nice":false,"zero":false},"axis":{"orient":"top","values":[0,2,4,6,8,10,12],"tickSize":-6,"title":null}},
   "y":{"field":"v","type":"quantitative","scale":{"domain":[0.05,0.09],"nice":false,"zero":false},"axis":{"orient":"left","values":[0.06,0.08],"format":".2f","tickSize":-22,"labels":true,"labelPadding":35,"labelFont":"DejaVu Sans","labelFontSize":34,"labelColor":"black","labelFlush":false,"title":null}}}},
  {"data":{"name":"wfast"},"mark":{"type":"line","color":"#FF0000","strokeWidth":4,"clip":true},
   "encoding":{"x":{"field":"t","type":"quantitative","scale":{"domain":[0,12],"nice":false,"zero":false},"axis":{"orient":"top","tickCount":24,"tickSize":-3,"title":null}},
   "y":{"field":"v","type":"quantitative","scale":{"domain":[0.05,0.09],"nice":false,"zero":false},"axis":{"orient":"left","tickCount":8,"tickSize":-11,"title":null}}}},
  {"data":{"values":[{"t":0.503,"v":0.0799,"s":"TRANSP analysis"},{"t":0.503,"v":0.07274,"s":"W"},{"t":1.202,"v":0.07274,"s":"[MW] x0.4"}]},"mark":{"type":"text","font":"Liberation Sans","fontSize":36,"align":"left","baseline":"alphabetic","color":"black"},
   "encoding":{"x":{"field":"t","type":"quantitative","scale":{"domain":[0,12],"nice":false,"zero":false},"axis":{"orient":"bottom","values":[0,2,4,6,8,10,12],"tickSize":-6,"title":null}},
   "y":{"field":"v","type":"quantitative","scale":{"domain":[0.05,0.09],"nice":false,"zero":false},"axis":{"orient":"right","tickCount":8,"tickSize":-22,"title":null}},"text":{"field":"s"}}},
  {"data":{"values":[{"t":0.888,"v":0.07136,"s":"th"}]},"mark":{"type":"text","font":"Liberation Sans","fontSize":24,"align":"left","baseline":"alphabetic","color":"black"},
   "encoding":{"x":{"field":"t","type":"quantitative","scale":{"domain":[0,12],"nice":false,"zero":false},"axis":{"orient":"bottom","tickCount":24,"tickSize":-3,"title":null}},
   "y":{"field":"v","type":"quantitative","scale":{"domain":[0.05,0.09],"nice":false,"zero":false},"axis":null},"text":{"field":"s"}}},
  {"data":{"values":[{"t":0.503,"v":0.0653,"s":"W"},{"t":1.43,"v":0.0653,"s":"[MW]"}]},"mark":{"type":"text","font":"Liberation Sans","fontSize":36,"align":"left","baseline":"alphabetic","color":"#FF0000"},
   "encoding":{"x":{"field":"t","type":"quantitative","scale":{"domain":[0,12],"nice":false,"zero":false},"axis":null},
   "y":{"field":"v","type":"quantitative","scale":{"domain":[0.05,0.09],"nice":false,"zero":false},"axis":null},"text":{"field":"s"}}},
  {"data":{"values":[{"t":0.888,"v":0.0639,"s":"fast"}]},"mark":{"type":"text","font":"Liberation Sans","fontSize":24,"align":"left","baseline":"alphabetic","color":"#FF0000"},
   "encoding":{"x":{"field":"t","type":"quantitative","scale":{"domain":[0,12],"nice":false,"zero":false},"axis":null},
   "y":{"field":"v","type":"quantitative","scale":{"domain":[0.05,0.09],"nice":false,"zero":false},"axis":null},"text":{"field":"s"}}},
  {"data":{"values":[{"t1":0.503,"t2":3.595,"v":0.0792}]},"mark":{"type":"rule","color":"black","strokeWidth":2},
   "encoding":{"x":{"field":"t1","type":"quantitative","scale":{"domain":[0,12],"nice":false,"zero":false},"axis":null},"x2":{"field":"t2"},
   "y":{"field":"v","type":"quantitative","scale":{"domain":[0.05,0.09],"nice":false,"zero":false},"axis":null}}},
  {"data":{"name":"green"},"mark":{"type":"rect","color":"#00B050","opacity":0.2},"encoding":{"x":{"field":"t1","type":"quantitative","scale":{"domain":[0,12],"nice":false,"zero":false},"axis":null},"x2":{"field":"t2"}}},
  {"data":{"name":"purple"},"mark":{"type":"rect","color":"#7030A0","opacity":0.2},"encoding":{"x":{"field":"t1","type":"quantitative","scale":{"domain":[0,12],"nice":false,"zero":false},"axis":null},"x2":{"field":"t2"}}}
 ]},
{"width":1145,"height":243,
 "resolve":{"axis":{"x":"independent","y":"independent"}},
 "layer":[
  {"data":{"name":"neut"},"mark":{"type":"line","color":"black","strokeWidth":5.5},
   "encoding":{"x":{"field":"t","type":"quantitative","scale":{"domain":[0,12],"nice":false,"zero":false},"axis":{"orient":"top","values":[0,2,4,6,8,10,12],"tickSize":-6,"title":null}},
   "y":{"field":"v","type":"quantitative","scale":{"domain":[0,1000],"nice":false,"zero":false},"axis":{"orient":"left","values":[0,200,400,600,800,1000],"format":"d","tickSize":-22,"labels":true,"labelPadding":35,"labelFont":"DejaVu Sans","labelFontSize":31,"labelColor":"black","labelFlush":true,"title":null}}}},
  {"data":{"name":"daenv"},"mark":{"type":"area","color":"#0000FF","opacity":0.8},
   "encoding":{"x":{"field":"t","type":"quantitative","scale":{"domain":[0,12],"nice":false,"zero":false},"axis":{"orient":"top","tickCount":24,"tickSize":-3,"title":null}},
   "y":{"field":"hi","type":"quantitative","scale":{"domain":[0,1000],"nice":false,"zero":false},"axis":{"orient":"left","tickCount":20,"tickSize":-11,"title":null}},"y2":{"field":"lo"}}},
  {"data":{"name":"daspk"},"mark":{"type":"rule","color":"#0000FF","strokeWidth":1},
   "encoding":{"x":{"field":"t","type":"quantitative","scale":{"domain":[0,12],"nice":false,"zero":false},"axis":{"orient":"bottom","values":[0,2,4,6,8,10,12],"format":"d","tickSize":-6,"labels":true,"labelPadding":29,"labelFont":"Liberation Sans","labelFontSize":35,"labelColor":"black","labelFlush":false,"title":"Time [sec]","titleFont":"Liberation Sans","titleFontSize":35,"titleFontWeight":"normal","titleColor":"black","titlePadding":4}},
   "y":{"field":"v","type":"quantitative","scale":{"domain":[0,1000],"nice":false,"zero":false},"axis":{"orient":"right","values":[0,200,400,600,800,1000],"tickSize":-22,"title":null}},"y2":{"datum":40}}},
  {"data":{"name":"dabase"},"mark":{"type":"line","color":"#0000FF","strokeWidth":1.5},
   "encoding":{"x":{"field":"t","type":"quantitative","scale":{"domain":[0,12],"nice":false,"zero":false},"axis":{"orient":"bottom","tickCount":24,"tickSize":-3,"title":null}},
   "y":{"field":"v","type":"quantitative","scale":{"domain":[0,1000],"nice":false,"zero":false},"axis":{"orient":"right","tickCount":20,"tickSize":-11,"title":null}}}},
  {"data":{"values":[{"t":0.364,"v":853,"s":"Neutron rate [a.u]"}]},"mark":{"type":"text","font":"Liberation Sans","fontSize":36,"align":"left","baseline":"alphabetic","color":"black"},
   "encoding":{"x":{"field":"t","type":"quantitative","scale":{"domain":[0,12],"nice":false,"zero":false},"axis":null},
   "y":{"field":"v","type":"quantitative","scale":{"domain":[0,1000],"nice":false,"zero":false},"axis":null},"text":{"field":"s"}}},
  {"data":{"values":[{"t":10.556,"v":115,"s":"D"},{"t":11.09,"v":115,"s":"[a.u]"}]},"mark":{"type":"text","font":"Liberation Sans","fontSize":35,"align":"left","baseline":"alphabetic","color":"#0000FF"},
   "encoding":{"x":{"field":"t","type":"quantitative","scale":{"domain":[0,12],"nice":false,"zero":false},"axis":null},
   "y":{"field":"v","type":"quantitative","scale":{"domain":[0,1000],"nice":false,"zero":false},"axis":null},"text":{"field":"s"}}},
  {"data":{"values":[{"t":10.83,"v":85,"s":"α"}]},"mark":{"type":"text","font":"Liberation Sans","fontSize":24,"align":"left","baseline":"alphabetic","color":"#0000FF"},
   "encoding":{"x":{"field":"t","type":"quantitative","scale":{"domain":[0,12],"nice":false,"zero":false},"axis":null},
   "y":{"field":"v","type":"quantitative","scale":{"domain":[0,1000],"nice":false,"zero":false},"axis":null},"text":{"field":"s"}}},
  {"data":{"name":"green"},"mark":{"type":"rect","color":"#00B050","opacity":0.2},"encoding":{"x":{"field":"t1","type":"quantitative","scale":{"domain":[0,12],"nice":false,"zero":false},"axis":null},"x2":{"field":"t2"}}},
  {"data":{"name":"purple"},"mark":{"type":"rect","color":"#7030A0","opacity":0.2},"encoding":{"x":{"field":"t1","type":"quantitative","scale":{"domain":[0,12],"nice":false,"zero":false},"axis":null},"x2":{"field":"t2"}}}
 ]}
],
"spacing":0,
"bounds":"flush"
}
